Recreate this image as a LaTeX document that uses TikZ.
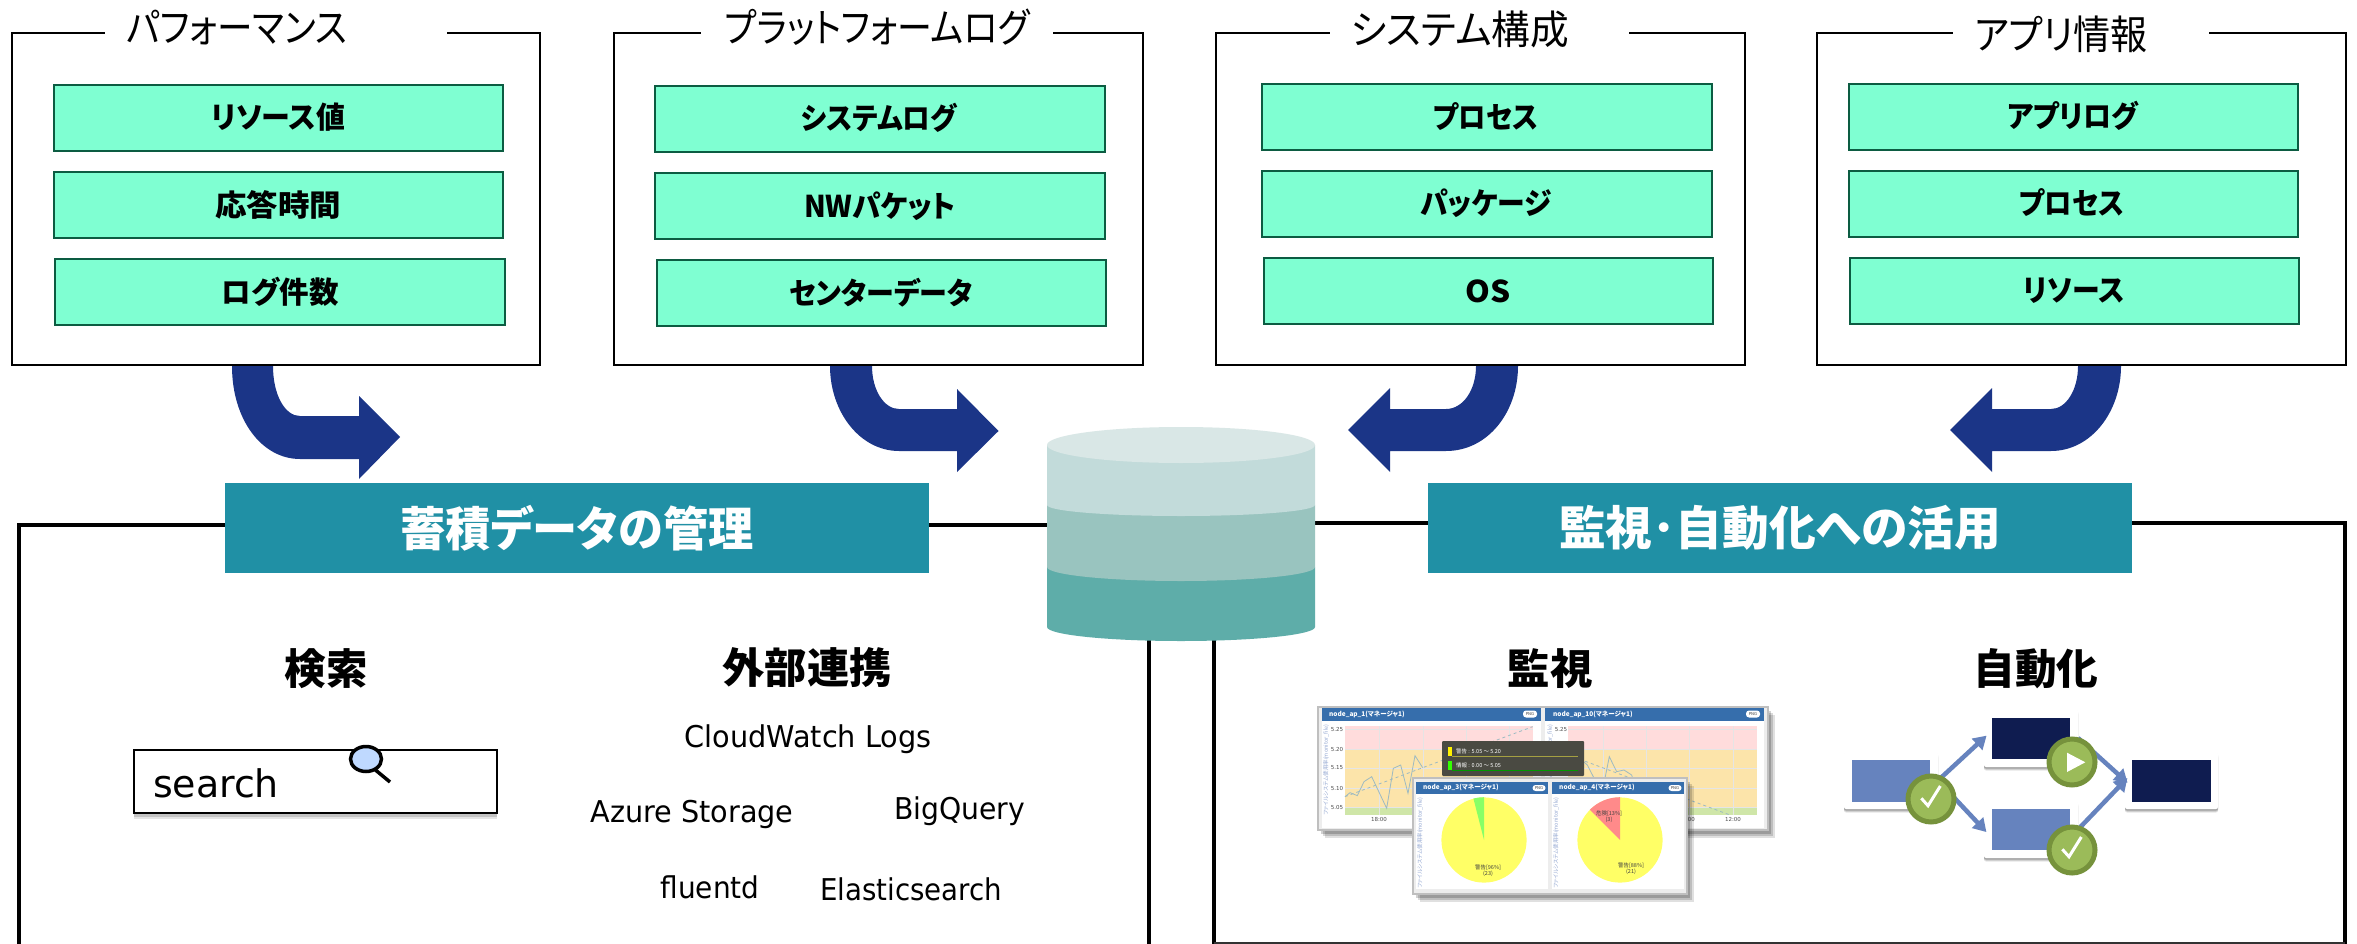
\documentclass[tikz,border=0pt]{standalone}
\usepackage{fontspec}
\setmainfont[RawFeature=+palt]{Noto Sans CJK JP}
\newfontfamily\lat{DejaVu Sans}
\usetikzlibrary{shadows,arrows.meta,calc,shapes.geometric}
\definecolor{gfill}{HTML}{7FFFD2}
\definecolor{gline}{HTML}{0C5C42}
\definecolor{navyarrow}{HTML}{1B3587}
\definecolor{teal1}{HTML}{2090A5}
\definecolor{cyl0}{HTML}{D9E7E6}
\definecolor{cyl1}{HTML}{C2DBDA}
\definecolor{cyl2}{HTML}{99C4BF}
\definecolor{cyl3}{HTML}{5EADA9}
\definecolor{hdr}{HTML}{366EAC}
\definecolor{cardblue}{HTML}{6683BE}
\definecolor{cardnavy}{HTML}{0F1C50}
\definecolor{cgreen}{HTML}{9BBB59}
\definecolor{cgreend}{HTML}{76923C}
\definecolor{cred}{HTML}{FFDCDC}
\definecolor{cyel}{HTML}{FCE4AA}
\definecolor{cgrn}{HTML}{CFE6A8}
\definecolor{tracec}{HTML}{9DBAC2}
\definecolor{tipc}{HTML}{4A4A42}
\definecolor{pieyel}{HTML}{FFFF66}
\definecolor{piegrn}{HTML}{88FF66}
\definecolor{piered}{HTML}{FF8A8A}
\newcommand\fitw[2]{\resizebox{#1pt}{\height}{#2}}
\tikzset{
  x=1pt,y=-1pt,
  topframe/.style={draw=black,line width=2pt,fill=white,inner sep=0pt,outer sep=0pt},
  greenbox/.style={draw=gline,line width=2.2pt,fill=gfill,inner sep=0pt,outer sep=0pt},
  boxlabel/.style={font=\fontsize{30}{30}\selectfont\bfseries,inner sep=0pt,text=black},
  toptitle/.style={font=\fontsize{40}{40}\selectfont,inner sep=0pt,text=black},
  banner/.style={fill=teal1,inner sep=0pt,outer sep=0pt},
  bannertext/.style={font=\fontsize{47}{47}\selectfont\bfseries,inner sep=0pt,text=white},
  sechead/.style={font=\fontsize{42}{42}\selectfont\bfseries,inner sep=0pt,text=black},
  ltext/.style={font=\lat\fontsize{30}{30}\selectfont,inner sep=0pt,text=black},
  bigarrow/.style={fill=navyarrow,draw=none},
  frameline/.style={draw=black,line width=4pt},
  shot/.style={draw=black!25,line width=2pt,fill=black!7,inner sep=0pt,outer sep=0pt,
    drop shadow={shadow xshift=7pt,shadow yshift=-8pt,opacity=0.12,fill=black},
    drop shadow={shadow xshift=5pt,shadow yshift=-6pt,opacity=0.15,fill=black},
    drop shadow={shadow xshift=3pt,shadow yshift=-4pt,opacity=0.18,fill=black}},
  sub/.style={fill=white,inner sep=0pt,outer sep=0pt},
  header/.style={fill=hdr,inner sep=0pt,outer sep=0pt},
  tiny/.style={font=\lat\fontsize{5.5}{5.5}\selectfont,inner sep=0pt,text=black!70},
  hdrtext/.style={font=\fontsize{6.5}{6.5}\selectfont\bfseries,inner sep=0pt,text=white},
  axis/.style={font=\fontsize{5.5}{5.5}\selectfont,inner sep=0pt,text=cardblue!70,rotate=90},
  pill/.style={fill=white,rounded corners=3pt,inner sep=0pt,minimum width=14pt,minimum height=7pt,font=\lat\fontsize{4}{4}\selectfont,text=black!70},
  card/.style={fill=white,rounded corners=2pt,inner sep=0pt,outer sep=0pt,
    drop shadow={shadow xshift=0pt,shadow yshift=-3.5pt,opacity=0.10,fill=black},
    drop shadow={shadow xshift=0pt,shadow yshift=-2.5pt,opacity=0.14,fill=black},
    drop shadow={shadow xshift=0pt,shadow yshift=-1.5pt,opacity=0.16,fill=black}},
  innerbox/.style={inner sep=0pt,outer sep=0pt},
  flow/.style={draw=cardblue,line width=4.5pt,-{Triangle[length=13pt,width=15pt]},shorten >=-3.5pt},
  badge/.style={circle,draw=cgreend,line width=5pt,fill=cgreen,minimum size=46pt,inner sep=0pt,outer sep=0pt},
  chk/.style={draw=white,line width=3pt,line join=miter},
  grid1/.style={draw=black!10,line width=.5pt},
  trace/.style={draw=tracec,line width=.8pt},
  tracedash/.style={draw=tracec,line width=.8pt,dashed},
}
\newcommand\topblock[5]{% name x1 x2 gap1 gap2
  \node[topframe,minimum width={(#3-#2)*1pt},minimum height=332pt] (#1) at ({(#2+#3)/2},199) {};
  \fill[white] (#4,29) rectangle (#5,37);
}
\newcommand\gbox[9]{%
  \node[greenbox,minimum width={(#4-#2)*1pt},minimum height={(#5-#3)*1pt}] (#1) at ({(#2+#4)/2},{(#3+#5)/2}) {};
  \node[boxlabel] (#1-t) at (#6,#7) {\fitw{#8}{#9}};
}
\begin{document}
\begin{tikzpicture}
\useasboundingbox (0,0) rectangle (2357,944);
\fill[white] (0,0) rectangle (2357,944);

% large lower frames
\draw[frameline] (19,944) -- (19,525) -- (1149,525) -- (1149,944);
\draw[frameline] (1214,944) -- (1214,523) -- (2345,523) -- (2345,944);
\draw[draw=black!80,line width=2.5pt] (1214,943) -- (2345,943);

% top blocks
\topblock{perf}{12}{540}{105}{447}
\topblock{plat}{614}{1143}{701}{1053}
\topblock{sys}{1216}{1745}{1330}{1629}
\topblock{app}{1817}{2346}{1953}{2209}
\node[toptitle] (t1) at (237,28) {\fitw{221}{パフォーマンス}};
\node[toptitle] (t2) at (877,27) {\fitw{305}{プラットフォームログ}};
\node[toptitle] (t3) at (1460,29) {\fitw{218}{システム構成}};
\node[toptitle] (t4) at (2061,34) {\fitw{173}{アプリ情報}};

\gbox{a1}{54}{85}{503}{151}{278}{117}{134}{リソース値}
\gbox{a2}{54}{172}{503}{238}{278}{205}{126}{応答時間}
\gbox{a3}{55}{259}{505}{325}{280}{292}{117}{ログ件数}
\gbox{b1}{655}{86}{1105}{152}{879}{118}{156}{システムログ}
\gbox{b2}{655}{173}{1105}{239}{880}{206}{152}{NWパケット}
\gbox{b3}{657}{260}{1106}{326}{881}{293}{184}{センターデータ}
\gbox{c1x}{1262}{84}{1712}{150}{1486}{117}{105}{プロセス}
\gbox{c2x}{1262}{171}{1712}{237}{1486}{203}{131}{パッケージ}
\gbox{c3x}{1264}{258}{1713}{324}{1488}{291}{45}{OS}
\gbox{d1}{1849}{84}{2298}{150}{2073}{116}{131}{アプリログ}
\gbox{d2}{1849}{171}{2298}{237}{2072}{203}{105}{プロセス}
\gbox{d3}{1850}{258}{2299}{324}{2074}{291}{101}{リソース}

% block arrows
\fill[bigarrow] (232,366) .. controls (232,420) and (262,459) .. (300,459) -- (359,459) -- (359,479) -- (400,437) -- (359,396) -- (359,416) -- (300,416) .. controls (285,416) and (273,395) .. (273,366) -- cycle;
\fill[bigarrow] (830,366) .. controls (830,412) and (860,451) .. (899,451) -- (957,451) -- (957,472) -- (998.5,431) -- (957,389) -- (957,409) -- (899,409) .. controls (884,409) and (872,390) .. (872,366) -- cycle;
\fill[bigarrow] (1518,366) .. controls (1518,412) and (1488,451) .. (1446,451) -- (1390,451) -- (1390,472) -- (1348,430) -- (1390,388) -- (1390,409) -- (1446,409) .. controls (1463,409) and (1476,390) .. (1476,366) -- cycle;
\fill[bigarrow] (2121,366) .. controls (2121,412) and (2091,451) .. (2051,451) -- (1992,451) -- (1992,472) -- (1950,430) -- (1992,388) -- (1992,409) -- (2051,409) .. controls (2066,409) and (2078,390) .. (2078,366) -- cycle;

% cylinder
\fill[cyl3] (1047,567) -- (1047,627) arc[start angle=180,end angle=360,x radius=134pt,y radius=14pt] -- (1315,567) -- cycle;
\fill[cyl2] (1047,505) -- (1047,567) arc[start angle=180,end angle=360,x radius=134pt,y radius=14pt] -- (1315,505) -- cycle;
\fill[cyl1] (1047,445) -- (1047,505) arc[start angle=180,end angle=360,x radius=134pt,y radius=11pt] -- (1315,445) -- cycle;
\fill[cyl0] (1181,445) ellipse [x radius=134pt,y radius=18pt];

% banners
\node[banner,minimum width=703.5pt,minimum height=90pt] (bl) at (577,528) {};
\node[banner,minimum width=704pt,minimum height=90pt] (br) at (1780,528) {};
\node[bannertext] (blt) at (577,528) {\fitw{353}{蓄積データの管理}};
\node[bannertext] (brt) at (1780,528) {\fitw{442}{監視･自動化への活用}};

% section headings
\node[sechead] (h1) at (326,669) {\fitw{83}{検索}};
\node[sechead] (h2) at (807,668) {\fitw{169}{外部連携}};
\node[sechead] (h3) at (1550,669) {\fitw{85}{監視}};
\node[sechead] (h4) at (2036,669) {\fitw{125}{自動化}};

% search box
\node[draw=black,line width=2.5pt,fill=white,inner sep=0pt,minimum width=363pt,minimum height=63pt,
  drop shadow={shadow xshift=0pt,shadow yshift=-6pt,opacity=0.10,fill=black},
  drop shadow={shadow xshift=0pt,shadow yshift=-4pt,opacity=0.14,fill=black}] (searchbox) at (315.5,781.5) {};
\node[ltext,font=\lat\fontsize{38}{38}\selectfont,anchor=base] (searchtxt) at (216,797) {\fitw{126}{search}};
\node[draw=black,line width=3.5pt,fill=blue!60!cyan!25!white,ellipse,inner sep=0pt,minimum width=31pt,minimum height=25pt,outer sep=0pt] (lens) at (366,759) {};
\coordinate (hnd) at (390,782);
\draw[black,line width=3.5pt] (lens.-50) -- (hnd);

% external systems
\node[ltext] (e1) at (808,739.5) {\fitw{247}{CloudWatch Logs}};
\node[ltext] (e2) at (692,814.5) {\fitw{203}{Azure Storage}};
\node[ltext] (e3) at (959.5,811) {\fitw{131}{BigQuery}};
\node[ltext] (e4) at (710,887) {\fitw{99}{fluentd}};
\node[ltext] (e5) at (911,889) {\fitw{182}{Elasticsearch}};

% monitoring screenshot: back panel
\node[shot,minimum width=450pt,minimum height=123pt] (back) at (1542.5,768) {};
\node[sub,minimum width=219pt,minimum height=118pt] (bl1) at (1431.5,768.5) {};
\node[sub,minimum width=219pt,minimum height=118pt] (bl2) at (1654.5,768.5) {};
\node[header,minimum width=219pt,minimum height=13pt] (bh1) at (1431.5,714.5) {};
\node[header,minimum width=219pt,minimum height=13pt] (bh2) at (1654.5,714.5) {};
\node[hdrtext,anchor=west] (bh1t) at (1329,714) {node\_ap\_1(マネージャ1)};
\node[hdrtext,anchor=west] (bh2t) at (1553,714) {node\_ap\_10(マネージャ1)};
\node[pill] (p1) at (1530,714) {PNG};
\node[pill] (p2) at (1753,714) {PNG};
% charts
\fill[cred] (1345,726) rectangle (1533,749);
\fill[cyel] (1345,749) rectangle (1533,808);
\fill[cgrn] (1345,808) rectangle (1533,815);
\fill[cred] (1568,726) rectangle (1757,749);
\fill[cyel] (1568,749) rectangle (1757,808);
\fill[cgrn] (1568,808) rectangle (1757,815);
\foreach \g in {1379,1423,1466,1509,1603,1646,1689,1733} \draw[grid1] (\g,726) -- (\g,815);
\foreach \g in {729,749,768,788,807} {\draw[grid1] (1345,\g) -- (1533,\g); \draw[grid1] (1568,\g) -- (1757,\g);}
\begin{scope}[shift={(1280,680)},x=0.3333pt,y=-0.3333pt]
\draw[trace] (195,350) -- (210,338) -- (232,347) -- (252,305) -- (275,290) -- (320,385) -- (340,265) -- (362,255) -- (384,340) -- (405,227) -- (428,263);
\draw[tracedash] (195,350) -- (758,140);
\draw[trace] (880,205) -- (900,235) -- (922,255) -- (945,300) -- (965,345) -- (988,230) -- (1010,275) -- (1032,270) -- (1055,285) -- (1075,345) -- (1097,292);
\draw[tracedash] (865,225) -- (1350,405);
\end{scope}
\foreach \v/\yy in {5.25/729,5.20/749,5.15/768,5.10/788,5.05/807} {
  \node[tiny] at (1337,\yy) {\v};
  \node[tiny] at (1561,\yy) {\v};
}
\node[tiny] (xl1) at (1379,819) {18:00};
\node[tiny] (xl2) at (1687,819) {18:00};
\node[tiny] (xl3) at (1733,819) {12:00};
\node[axis] (ax1) at (1326,770) {ファイルシステム使用率(monitor\_file)};
\node[axis] (ax2) at (1550,770) {ファイルシステム使用率(monitor\_file)};

% tooltip
\node[fill=tipc,rounded corners=1pt,inner sep=0pt,minimum width=142pt,minimum height=35pt] (tip) at (1513,758.5) {};
\fill[yellow] (1448,747) rectangle (1452,756);
\fill[green!80!yellow] (1448,761) rectangle (1452,770);
\draw[yellow!60!black,line width=.8pt] (1452,756) -- (1578,756);
\draw[green!60!black,line width=.8pt] (1452,770) -- (1578,770);
\node[font=\fontsize{5.5}{5.5}\selectfont,text=white,inner sep=0pt,anchor=west] (tip1) at (1456,751) {警告 : 5.05 ～ 5.20};
\node[font=\fontsize{5.5}{5.5}\selectfont,text=white,inner sep=0pt,anchor=west] (tip2) at (1456,765) {情報 : 0.00 ～ 5.05};

% monitoring screenshot: front panel
\node[shot,minimum width=274pt,minimum height=116pt] (front) at (1550,836) {};
\node[sub,minimum width=132pt,minimum height=107pt] (fp1) at (1482,835.5) {};
\node[sub,minimum width=132pt,minimum height=107pt] (fp2) at (1618,835.5) {};
\node[header,minimum width=132pt,minimum height=12pt] (fh1) at (1482,788) {};
\node[header,minimum width=132pt,minimum height=12pt] (fh2) at (1618,788) {};
\node[hdrtext,anchor=west] (fh1t) at (1423,787.5) {node\_ap\_3(マネージャ1)};
\node[hdrtext,anchor=west] (fh2t) at (1559,787.5) {node\_ap\_4(マネージャ1)};
\node[pill,minimum width=13pt,minimum height=6pt] (p3) at (1539,788) {PNG};
\node[pill,minimum width=13pt,minimum height=6pt] (p4) at (1675,788) {PNG};
\node[axis] (ax3) at (1420,843) {ファイルシステム使用率(monitor\_file)};
\node[axis] (ax4) at (1556,843) {ファイルシステム使用率(monitor\_file)};
\node[circle,fill=pieyel,inner sep=0pt,minimum size=85.2pt] (pie1) at (1484,840) {};
\node[circle,fill=pieyel,inner sep=0pt,minimum size=85.2pt] (pie2) at (1620,840) {};
\fill[piegrn] (pie1.center) -- (pie1.north) arc[start angle=90,end angle=104.4,radius=42.6pt] -- cycle;
\fill[piered] (pie2.center) -- (pie2.north) arc[start angle=90,end angle=135,radius=42.6pt] -- cycle;
\node[font=\fontsize{5.5}{6}\selectfont,align=center,inner sep=0pt,text=black!75] (pl1) at (1488,871) {警告[96\%]\\(23)};
\node[font=\fontsize{5.5}{6}\selectfont,align=center,inner sep=0pt,text=black!75] (pl2) at (1631,869) {警告[88\%]\\(21)};
\node[font=\fontsize{5.5}{6}\selectfont,align=center,inner sep=0pt,text=black!75] (pl3) at (1609,817) {危険[13\%]\\(3)};

% automation flow
\node[card,minimum width=94pt,minimum height=57pt] (cardA) at (1891,780.5) {};
\node[card,minimum width=94pt,minimum height=58pt] (cardB) at (2031,738) {};
\node[card,minimum width=94pt,minimum height=57pt] (cardC) at (2031,829.5) {};
\node[card,minimum width=93pt,minimum height=57pt] (cardD) at (2171.5,780.5) {};
\node[innerbox,fill=cardblue,minimum width=78pt,minimum height=42pt] (iA) at (cardA) {};
\node[innerbox,fill=cardnavy,minimum width=78pt,minimum height=41pt] (iB) at (cardB) {};
\node[innerbox,fill=cardblue,minimum width=78pt,minimum height=41pt] (iC) at (cardC) {};
\node[innerbox,fill=cardnavy,minimum width=79pt,minimum height=42pt] (iD) at (cardD) {};
\draw[flow] (cardA.east) -- (cardB.west);
\draw[flow] (cardA.east) -- (cardC.west);
\draw[flow] (cardB.east) -- (cardD.west);
\draw[flow] (cardC.east) -- (cardD.west);
\node[badge] (k1) at (1931,799) {};
\node[badge] (k2) at (2072,762) {};
\node[badge] (k3) at (2072,850) {};
\draw[chk] ($(k1)+(-9.7,-.7)$) -- ($(k1)+(-3,6.7)$) -- ($(k1)+(9.3,-13)$);
\draw[chk] ($(k3)+(-9.7,-.7)$) -- ($(k3)+(-3,6.7)$) -- ($(k3)+(9.3,-13)$);
\fill[white] ($(k2)+(-5,-9.3)$) -- ($(k2)+(-5,10)$) -- ($(k2)+(13.3,.3)$) -- cycle;
\end{tikzpicture}
\end{document}
